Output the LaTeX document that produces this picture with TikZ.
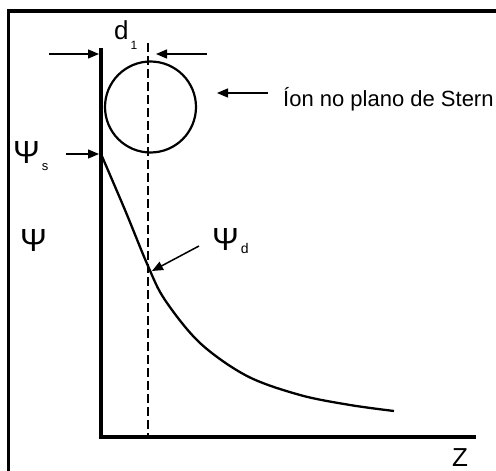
\documentclass[tikz,border=0pt]{standalone}
\usepackage{fontspec}
\setmainfont{Liberation Sans}
\usetikzlibrary{arrows.meta}
\begin{document}
\begin{tikzpicture}[x=1pt,y=-1pt,
  lbl/.style={inner sep=0pt, anchor=base west},
  arr/.style={line width=1.5pt, -{Triangle[length=11pt,width=9pt]}},
  axisline/.style={line width=3.5pt, line join=miter},
  psifont/.style={font=\fontsize{32}{32}\selectfont},
]
\useasboundingbox (0,0) rectangle (496,471);
% frame
\draw[line width=3.5pt] (8.5,471) -- (8.5,11) -- (496,11);
% axes
\coordinate (yTop) at (101,48);
\coordinate (orig) at (101,437);
\coordinate (xEnd) at (476,437);
\draw[axisline] (yTop) -- (orig) -- (xEnd);
% dashed plane
\coordinate (dTop) at (148,43);
\coordinate (dBot) at (148,436);
\draw[line width=2.6pt, dash pattern=on 9pt off 4pt] (dTop) -- (dBot);
% ion
\node[circle, draw, line width=2.2pt, minimum size=91pt, inner sep=0pt] (ion) at (150.5,107) {};
% potential curve
\draw[line width=2.3pt] plot[smooth, tension=0.55] coordinates {(101,154) (125,210) (148,266) (165,300) (200,343) (247,376) (300,395) (350,405) (394,411)};
% d1 arrows
\coordinate (a1s) at (49,54); \coordinate (a1e) at (99,54);
\coordinate (a2s) at (207,54); \coordinate (a2e) at (156,54);
\draw[arr] (a1s) -- (a1e);
\draw[arr] (a2s) -- (a2e);
% d1 label
\node[lbl, font=\fontsize{26}{26}\selectfont] (dl) at (114,39) {d\kern2pt\raisebox{-10pt}{\fontsize{12}{12}\selectfont 1}};
% ion label
\node[lbl, font=\fontsize{22}{22}\selectfont] (ionlbl) at (283,106) {Íon no plano de Stern};
\coordinate (a3s) at (268,93); \coordinate (a3e) at (217,93);
\draw[arr] (a3s) -- (a3e);
% psi_s
\node[lbl, psifont] (psis) at (13,163) {Ψ\kern2pt\raisebox{-7pt}{\fontsize{13}{13}\selectfont s}};
\coordinate (a4s) at (66,154); \coordinate (a4e) at (99,154);
\draw[arr] (a4s) -- (a4e);
% psi
\node[lbl, psifont] (psi) at (20,251) {Ψ};
% psi_d
\node[lbl, psifont] (psid) at (212,250) {Ψ\kern2pt\raisebox{-3pt}{\fontsize{14}{14}\selectfont d}};
\coordinate (a5s) at (199,246); \coordinate (a5e) at (152,271);
\draw[arr] (a5s) -- (a5e);
% Z
\node[lbl, font=\fontsize{26}{26}\selectfont] (z) at (452,466) {Z};
\end{tikzpicture}
\end{document}
